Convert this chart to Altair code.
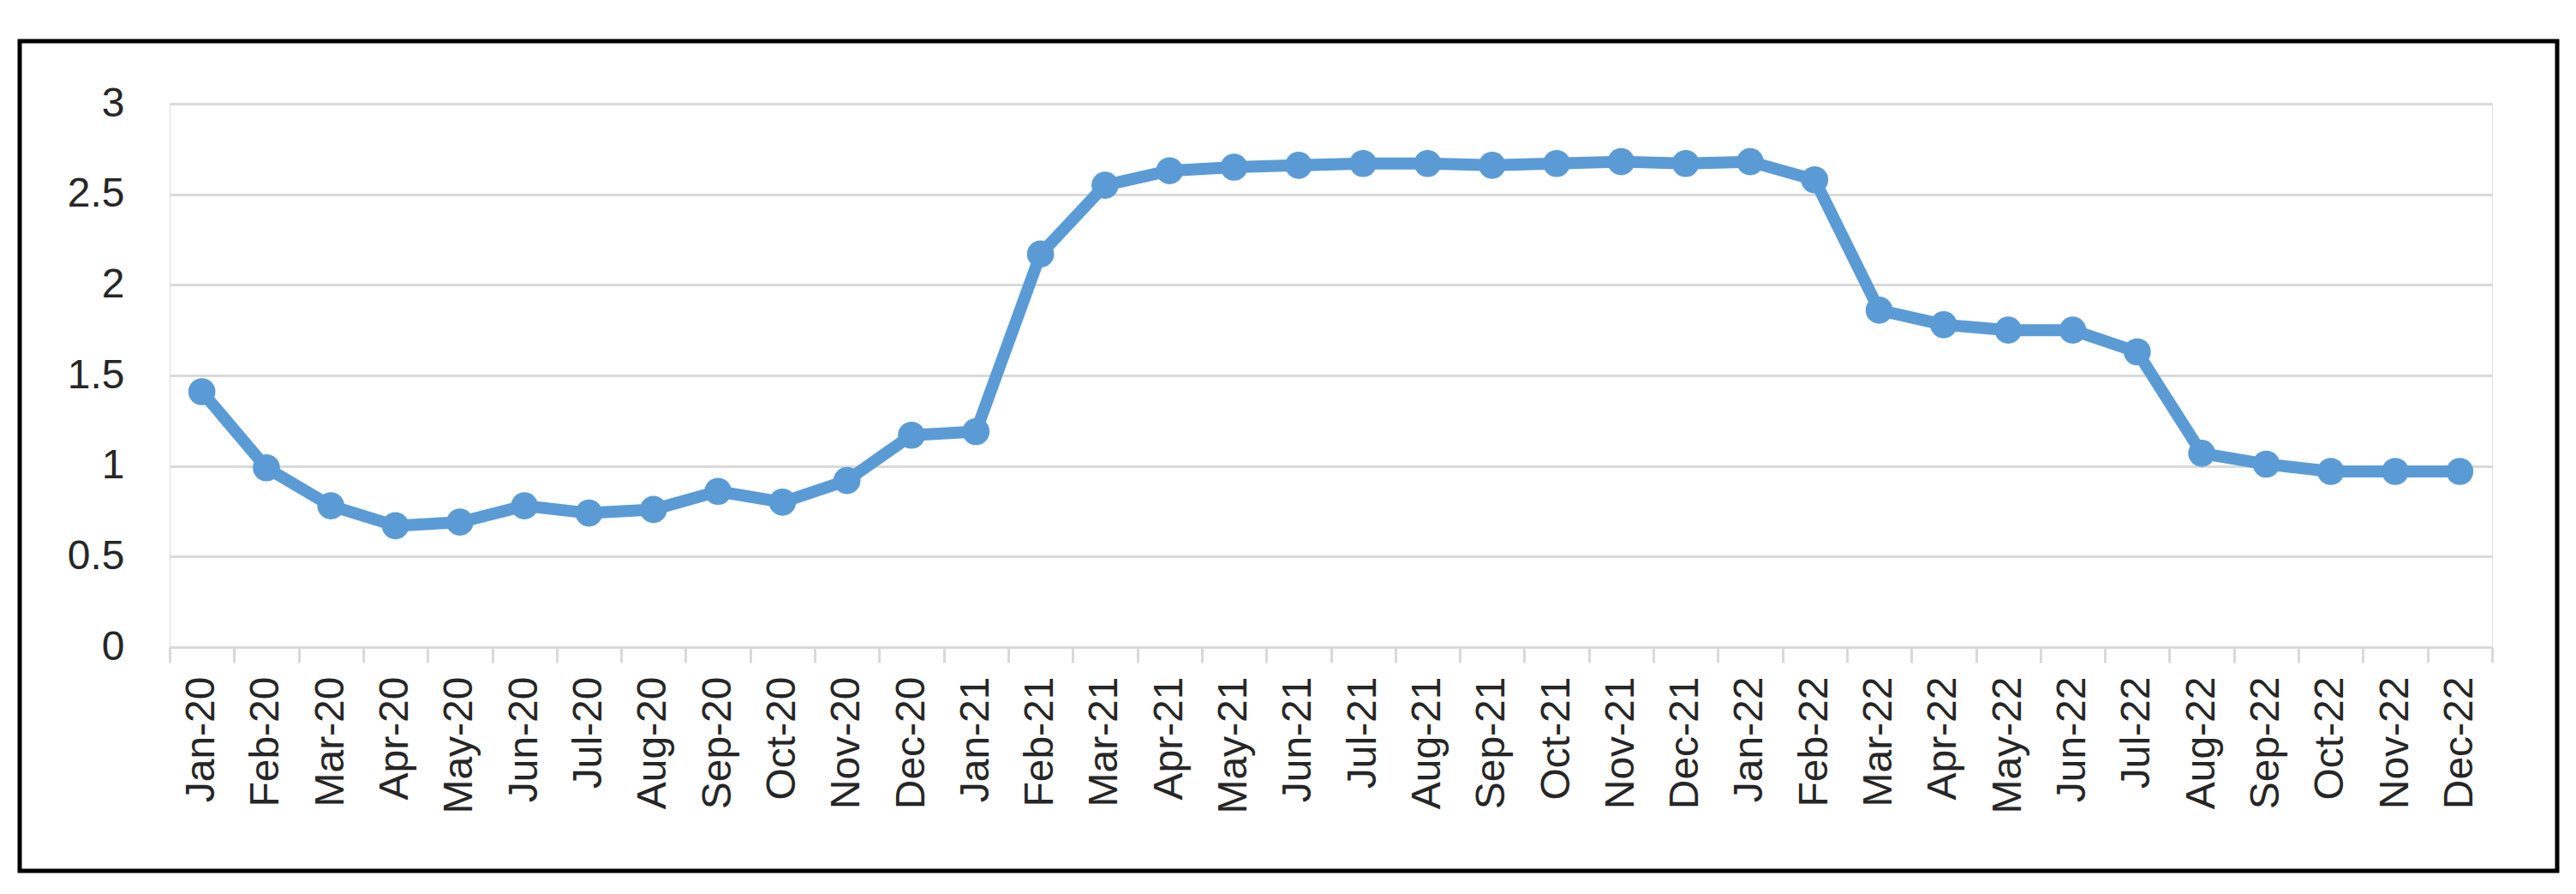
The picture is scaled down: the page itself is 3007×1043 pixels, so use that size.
import altair as alt
import pandas as pd

months = [
    "Jan-20", "Feb-20", "Mar-20", "Apr-20", "May-20", "Jun-20", "Jul-20", "Aug-20",
    "Sep-20", "Oct-20", "Nov-20", "Dec-20", "Jan-21", "Feb-21", "Mar-21", "Apr-21",
    "May-21", "Jun-21", "Jul-21", "Aug-21", "Sep-21", "Oct-21", "Nov-21", "Dec-21",
    "Jan-22", "Feb-22", "Mar-22", "Apr-22", "May-22", "Jun-22", "Jul-22", "Aug-22",
    "Sep-22", "Oct-22", "Nov-22", "Dec-22",
]
values = [
    1.41, 0.99, 0.78, 0.67, 0.69, 0.78, 0.74, 0.76,
    0.86, 0.80, 0.92, 1.17, 1.19, 2.17, 2.55, 2.63,
    2.65, 2.66, 2.67, 2.67, 2.66, 2.67, 2.68, 2.67,
    2.68, 2.58, 1.86, 1.78, 1.75, 1.75, 1.63, 1.07,
    1.01, 0.97, 0.97, 0.97,
]
y_ticks = [0, 0.5, 1, 1.5, 2, 2.5, 3]

df = pd.DataFrame({"month": months, "value": values})

BLUE = "#5b9bd5"
GRID = "#d9d9d9"
FONT = "Liberation Sans"

W, H = 2711, 634

x_enc = alt.X(
    "month:N", sort=months, title=None,
    scale=alt.Scale(paddingInner=0, paddingOuter=0),
    axis=alt.Axis(
        labelAngle=270, labelFontSize=48, labelFont=FONT, labelColor="#262626",
        labelPadding=16, tickBand="extent", tickSize=18, tickWidth=3, tickColor=GRID,
        domainColor=GRID, domainWidth=3, grid=False, labelOverlap=False,
    ),
)
y_enc = alt.Y(
    "value:Q", title=None,
    scale=alt.Scale(domain=[0, 3], nice=False, zero=True),
    axis=alt.Axis(
        values=y_ticks, format=".1~f", labelFontSize=48, labelFont=FONT,
        labelColor="#262626", labelPadding=53, ticks=False, domain=False,
        grid=True, gridColor=GRID, gridWidth=3,
    ),
)

base = alt.Chart(df)
line = base.mark_line(color=BLUE, strokeWidth=14, strokeJoin="round").encode(x=x_enc, y=y_enc)
points = base.mark_circle(color=BLUE, opacity=1, size=1000).encode(x=x_enc, y=y_enc)

frame_df = pd.DataFrame({"k": [0]})
frame = alt.Chart(frame_df).mark_rect(
    fill=None, stroke="black", strokeWidth=5, fillOpacity=0
).encode(
    x=alt.value(-175), x2=alt.value(2787), y=alt.value(-73), y2=alt.value(895)
)

chart = alt.layer(line, points, frame).properties(
    width=W, height=H,
    autosize=alt.AutoSizeParams(type="none"),
    padding={"left": 190, "top": 113, "right": 88, "bottom": 275},
).configure_view(stroke=None).configure(background="white")

chart.save("out.html", embed_options={"renderer": "svg", "actions": False})
